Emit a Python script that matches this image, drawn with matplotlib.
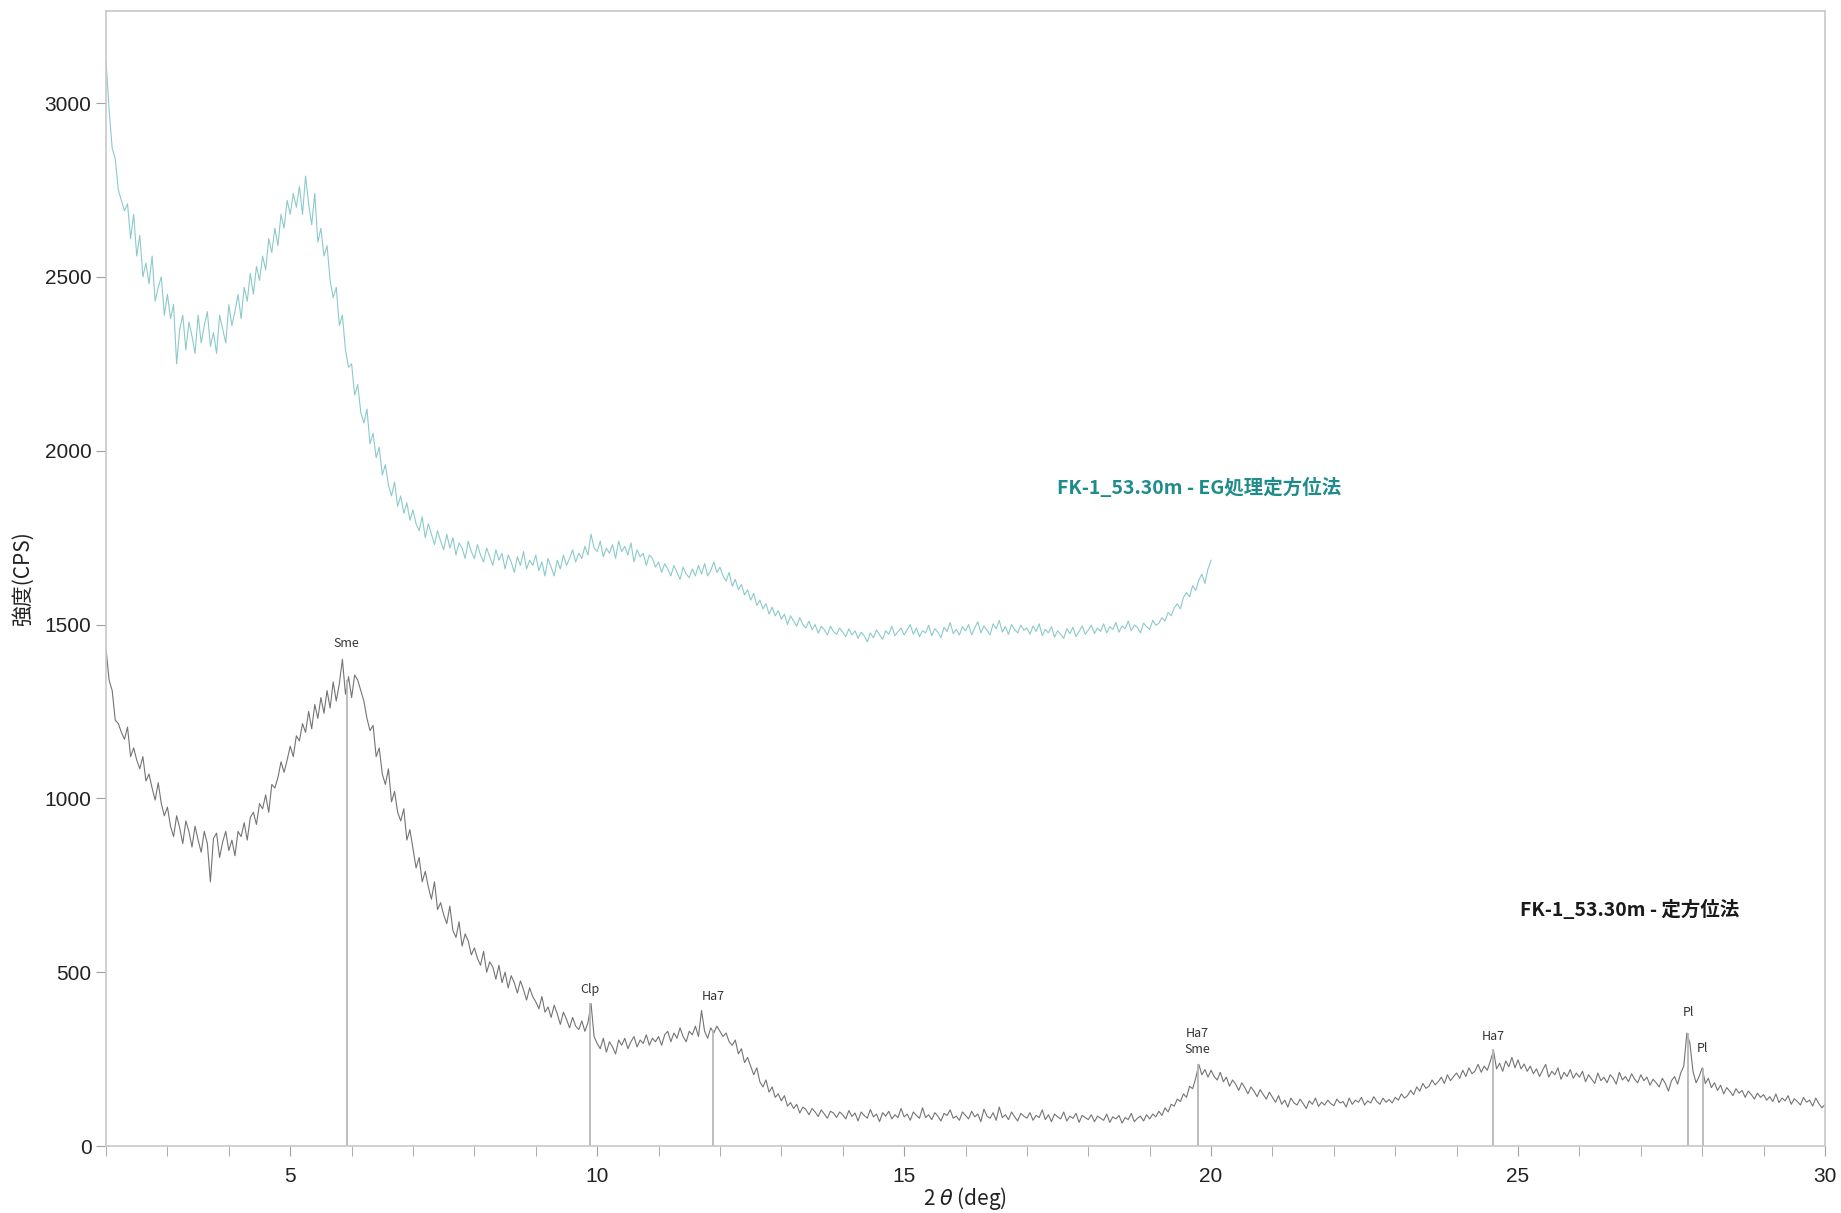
import numpy as np
import matplotlib.pyplot as plt
from matplotlib.ticker import MultipleLocator

plt.rcParams['font.family'] = ['Noto Sans CJK JP', 'DejaVu Sans']

# 2theta scan grid (deg), 0.05 step
two_theta = np.round(np.arange(2.0, 30.0001, 0.05), 2)

# 定方位法 (2.00 - 30.00 deg), one row per degree
cps_oriented = [
    1430, 1340, 1310, 1225, 1215, 1190, 1170, 1205, 1120, 1145, 1110, 1085, 1120, 1050, 1070, 1030, 995, 1045, 985, 950,
    975, 920, 890, 950, 915, 870, 935, 905, 860, 920, 880, 845, 905, 870, 760, 885, 900, 830, 875, 905,
    850, 880, 835, 905, 890, 930, 880, 945, 960, 925, 985, 970, 1010, 960, 1040, 1030, 1060, 1105, 1075, 1110,
    1150, 1120, 1180, 1165, 1215, 1190, 1250, 1200, 1270, 1230, 1290, 1245, 1310, 1260, 1335, 1280, 1330, 1400, 1300, 1350,
    1290, 1355, 1340, 1310, 1280, 1230, 1195, 1210, 1120, 1145, 1070, 1040, 1085, 990, 1020, 960, 935, 970, 880, 910,
    855, 800, 830, 760, 790, 745, 710, 760, 680, 700, 665, 640, 690, 620, 600, 645, 575, 610, 590, 550,
    570, 540, 520, 560, 500, 530, 515, 480, 520, 470, 500, 455, 490, 470, 440, 475, 450, 420, 455, 430,
    415, 395, 430, 385, 400, 370, 405, 380, 350, 385, 365, 340, 370, 345, 335, 360, 330, 355, 410, 315,
    295, 280, 310, 270, 300, 285, 265, 305, 290, 310, 280, 300, 315, 285, 305, 295, 320, 290, 310, 300,
    315, 290, 320, 330, 300, 325, 310, 340, 315, 300, 330, 320, 345, 315, 390, 330, 310, 340, 325, 345,
    330, 315, 325, 300, 290, 305, 265, 280, 240, 255, 230, 205, 225, 185, 170, 190, 155, 170, 140, 150,
    130, 145, 115, 125, 108, 120, 95, 112, 105, 90, 108, 98, 85, 104, 92, 80, 100, 95, 82, 98,
    90, 78, 102, 85, 95, 72, 98, 88, 80, 105, 84, 92, 70, 96, 86, 100, 78, 90, 82, 108,
    84, 92, 74, 98, 88, 80, 110, 82, 90, 76, 96, 86, 72, 94, 88, 104, 80, 86, 74, 98,
    88, 78, 100, 84, 92, 70, 106, 86, 80, 96, 74, 112, 82, 90, 76, 98, 84, 72, 94, 86,
    80, 96, 74, 88, 82, 104, 76, 90, 70, 92, 84, 78, 98, 72, 86, 80, 94, 68, 88, 82,
    76, 90, 70, 86, 80, 74, 92, 68, 84, 78, 88, 66, 82, 76, 94, 70, 80, 86, 72, 90,
    78, 92, 84, 100, 88, 110, 98, 120, 115, 135, 128, 150, 140, 172, 165, 195, 235, 205, 220, 198,
    218, 200, 190, 212, 185, 198, 172, 190, 178, 160, 182, 168, 150, 170, 158, 142, 162, 148, 135, 155,
    140, 126, 145, 120, 132, 112, 138, 124, 118, 135, 122, 108, 130, 120, 138, 114, 126, 118, 132, 122,
    116, 135, 124, 128, 112, 138, 120, 132, 126, 140, 118, 130, 124, 142, 128, 120, 138, 126, 134, 124,
    140, 132, 150, 138, 145, 160, 148, 170, 158, 180, 166, 172, 190, 176, 185, 198, 180, 205, 188, 200,
    210, 195, 218, 200, 225, 208, 216, 235, 212, 230, 218, 245, 275, 222, 238, 215, 245, 228, 255, 225,
    248, 222, 236, 215, 230, 208, 222, 200, 218, 235, 198, 215, 205, 225, 192, 212, 200, 220, 195, 210,
    198, 215, 185, 205, 192, 180, 210, 188, 198, 182, 205, 195, 178, 212, 190, 200, 185, 208, 192, 182,
    205, 188, 198, 175, 192, 182, 170, 195, 180, 158, 188, 200, 178, 210, 230, 325, 295, 215, 182, 200,
    225, 180, 195, 168, 182, 160, 175, 150, 168, 158, 145, 165, 152, 160, 140, 158, 148, 135, 152, 140,
    148, 132, 142, 128, 150, 125, 138, 130, 145, 120, 136, 128, 118, 140, 126, 132, 115, 138, 122, 110,
    120,
]

# EG処理定方位法 (2.00 - 20.00 deg)
cps_eg = [
    3120, 2980, 2870, 2840, 2750, 2720, 2690, 2710, 2610, 2680, 2560, 2620, 2500, 2540, 2480, 2560, 2430, 2470, 2500, 2390,
    2450, 2380, 2420, 2250, 2350, 2390, 2290, 2370, 2330, 2280, 2390, 2310, 2360, 2400, 2300, 2340, 2280, 2390, 2350, 2310,
    2420, 2360, 2400, 2450, 2380, 2470, 2430, 2510, 2450, 2530, 2490, 2560, 2520, 2610, 2570, 2640, 2590, 2680, 2640, 2720,
    2680, 2740, 2700, 2760, 2680, 2790, 2710, 2650, 2740, 2600, 2640, 2560, 2590, 2490, 2440, 2470, 2360, 2390, 2290, 2240,
    2250, 2160, 2190, 2110, 2080, 2120, 2020, 2050, 1980, 2010, 1930, 1960, 1900, 1870, 1910, 1840, 1870, 1820, 1850, 1800,
    1830, 1790, 1770, 1810, 1750, 1790, 1760, 1730, 1770, 1740, 1715, 1760, 1720, 1750, 1700, 1735, 1720, 1690, 1740, 1710,
    1690, 1730, 1700, 1680, 1720, 1695, 1670, 1715, 1685, 1705, 1660, 1700, 1680, 1650, 1695, 1670, 1710, 1660, 1685, 1670,
    1700, 1655, 1680, 1640, 1690, 1665, 1640, 1685, 1660, 1700, 1670, 1690, 1715, 1680, 1705, 1690, 1725, 1700, 1760, 1720,
    1710, 1740, 1695, 1720, 1705, 1730, 1690, 1740, 1710, 1725, 1700, 1735, 1680, 1715, 1695, 1705, 1670, 1700, 1690, 1665,
    1680, 1650, 1675, 1660, 1640, 1670, 1650, 1630, 1665, 1645, 1635, 1660, 1640, 1670, 1645, 1675, 1640, 1655, 1680, 1650,
    1665, 1640, 1625, 1650, 1610, 1630, 1600, 1615, 1585, 1600, 1570, 1590, 1555, 1570, 1545, 1560, 1530, 1550, 1525, 1540,
    1515, 1530, 1500, 1525, 1510, 1495, 1520, 1500, 1490, 1510, 1485, 1500, 1475, 1495, 1485, 1470, 1495, 1480, 1472, 1490,
    1478, 1465, 1488, 1470, 1482, 1460, 1478, 1468, 1450, 1476, 1462, 1485, 1470, 1458, 1482, 1472, 1495, 1468, 1480, 1490,
    1470, 1485, 1500, 1472, 1490, 1465, 1482, 1476, 1498, 1468, 1488, 1478, 1462, 1492, 1480, 1506, 1474, 1486, 1470, 1494,
    1482, 1500, 1470, 1490, 1508, 1476, 1496, 1484, 1470, 1502, 1488, 1512, 1478, 1494, 1472, 1500, 1486, 1476, 1498, 1484,
    1490, 1472, 1496, 1480, 1502, 1468, 1486, 1476, 1494, 1464, 1482, 1472, 1460, 1488, 1474, 1492, 1466, 1480, 1496, 1472,
    1484, 1498, 1474, 1490, 1480, 1502, 1476, 1494, 1486, 1506, 1478, 1496, 1488, 1510, 1482, 1498, 1492, 1476, 1504, 1494,
    1486, 1512, 1498, 1504, 1520, 1510, 1535, 1525, 1548, 1560, 1545, 1578, 1592, 1580, 1612, 1598, 1628, 1645, 1618, 1660,
    1685,
]

# peak identification markers
peak_pos = [5.92, 9.88, 11.89, 19.78, 24.59, 27.77, 28.01]
peak_top = [1340, 410, 335, 235, 280, 325, 225]
peak_names = ['Sme', 'Clp', 'Ha7', 'Ha7\nSme', 'Ha7', 'Pl', 'Pl']
label_y = [1445, 450, 430, 300, 314, 383, 282]

fig = plt.figure(figsize=(18.41, 12.13), dpi=100)
ax = fig.add_axes([0.0576, 0.0552, 0.9337, 0.9358])

ax.plot(two_theta[:len(cps_oriented)], cps_oriented, color='#747474', lw=0.8)
ax.plot(two_theta[:len(cps_eg)], cps_eg, color='#8ccaca', lw=0.8)

ax.vlines(peak_pos, 0, peak_top, color='#b8b8b8', lw=1.3)
for px, py, name in zip(peak_pos, label_y, peak_names):
    ax.text(px, py, name, ha='center', va='center', fontsize=9,
            color='#333333', linespacing=1.3)

ax.text(17.49, 1892, 'FK-1_53.30m - EG処理定方位法', color='#1f8c8c',
        fontsize=14, fontweight='bold', ha='left', va='center')
ax.text(25.03, 679, 'FK-1_53.30m - 定方位法', color='#1a1a1a',
        fontsize=14, fontweight='bold', ha='left', va='center')

ax.set_xlim(2, 30)
ax.set_ylim(0, 3265)
ax.xaxis.set_major_locator(MultipleLocator(5))
ax.xaxis.set_minor_locator(MultipleLocator(1))
ax.yaxis.set_major_locator(MultipleLocator(500))
ax.tick_params(axis='both', which='both', direction='out', length=7,
               color='#a0a0a0', labelsize=15, labelcolor='#222222')
ax.tick_params(axis='x', pad=8)
for lab in ax.get_xticklabels() + ax.get_yticklabels():
    lab.set_family(['Liberation Sans', 'DejaVu Sans'])
for s in ax.spines.values():
    s.set_color('#c8c8c8')
    s.set_linewidth(1.2)

ax.set_xlabel('2 $\\theta$ (deg)', fontsize=15, color='#222222')
ax.set_ylabel('強度(CPS)', fontsize=15, color='#222222')
ax.xaxis.set_label_coords(0.5, -0.034)
ax.yaxis.set_label_coords(-0.042, 0.5)

fig.savefig('out.png', dpi=100, facecolor='white')
